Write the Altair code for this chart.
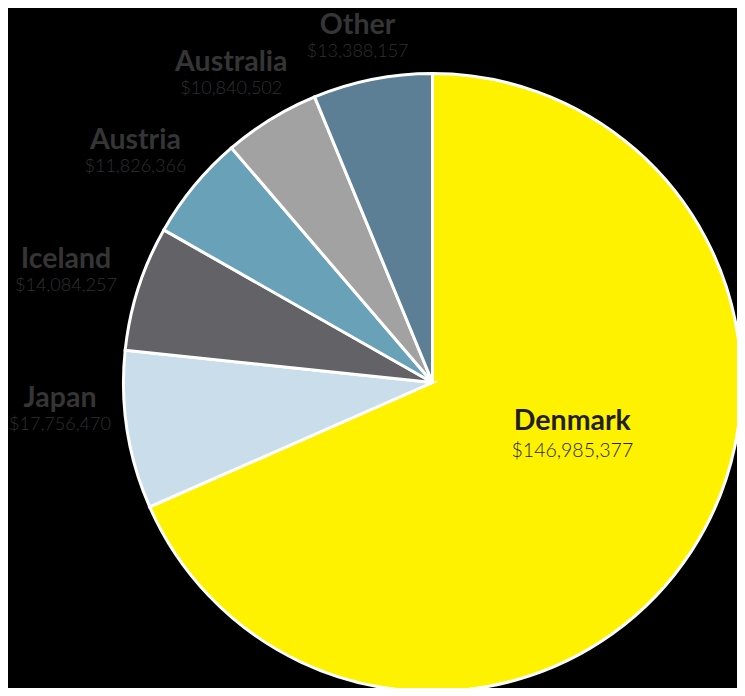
import altair as alt
import pandas as pd

countries = ["Denmark", "Japan", "Iceland", "Austria", "Australia", "Other"]
values = [146985377, 17756470, 14084257, 11826366, 10840502, 13388157]
labels = ["$146,985,377", "$17,756,470", "$14,084,257", "$11,826,366", "$10,840,502", "$13,388,157"]
colors = ["#FFF200", "#C9DDEA", "#636266", "#68A1B8", "#A2A2A2", "#5C7F96"]

df = pd.DataFrame({
    "country": countries,
    "value": values,
    "label": labels,
    "order": list(range(len(countries))),
})

# chart sits at (8, 8) on the page
CX, CY, R = 424.5, 374.5, 309
W, H = 729, 680

base = alt.Chart(df)

pie = base.mark_arc(radius=R, stroke="white", strokeWidth=3).encode(
    theta=alt.Theta("value:Q", stack=True),
    order=alt.Order("order:Q"),
    color=alt.Color("country:N", scale=alt.Scale(domain=countries, range=colors), legend=None),
    x=alt.value(CX),
    y=alt.value(CY),
)

# label anchors: on an ellipse around the pie at each slice's mid-angle,
# kept inside the chart and above the pie's equator (outer labels)
pos = base.transform_window(
    cum="sum(value)", sort=[alt.SortField("order")]
).transform_joinaggregate(
    total="sum(value)"
).transform_calculate(
    mid="(datum.cum - datum.value / 2) / datum.total * 2 * PI",
    big="datum.country == 'Denmark'",
).transform_calculate(
    px=f"{CX} + (datum.big ? 167 : 385) * sin(datum.mid)",
    py=f"{CY} - (datum.big ? 97 : 360) * cos(datum.mid)",
).transform_calculate(
    px="datum.big ? datum.px : max(datum.px, 52)",
    py=f"datum.big ? datum.py : clamp(datum.py, 30, {CY} + 29)",
).transform_calculate(
    ny="datum.py - (datum.big ? 15 : 13.5)",
    vy="datum.py + (datum.big ? 15 : 13.5)",
)

names = pos.mark_text(
    font="Lato", fontWeight="bold", fontSize=28.5, align="center", baseline="middle"
).encode(
    x=alt.X("px:Q", scale=None, axis=None),
    y=alt.Y("ny:Q", scale=None, axis=None),
    text="country:N",
    color=alt.condition("datum.country == 'Denmark'", alt.value("#231F20"), alt.value("#353535")),
)

vals = pos.mark_text(
    font="Lato", fontWeight=300, align="center", baseline="middle"
).encode(
    x=alt.X("px:Q", scale=None, axis=None),
    y=alt.Y("vy:Q", scale=None, axis=None),
    text="label:N",
    size=alt.condition("datum.country == 'Denmark'", alt.value(19.5), alt.value(18)),
    color=alt.condition("datum.country == 'Denmark'", alt.value("#231F20"), alt.value("#303030")),
)

chart = alt.layer(pie, names, vals).properties(
    width=W, height=H, background="black", padding=0,
    autosize=alt.AutoSizeParams(type="none"),
).configure_view(stroke=None)

chart.save("out.html", embed_options={"renderer": "svg", "actions": False})
